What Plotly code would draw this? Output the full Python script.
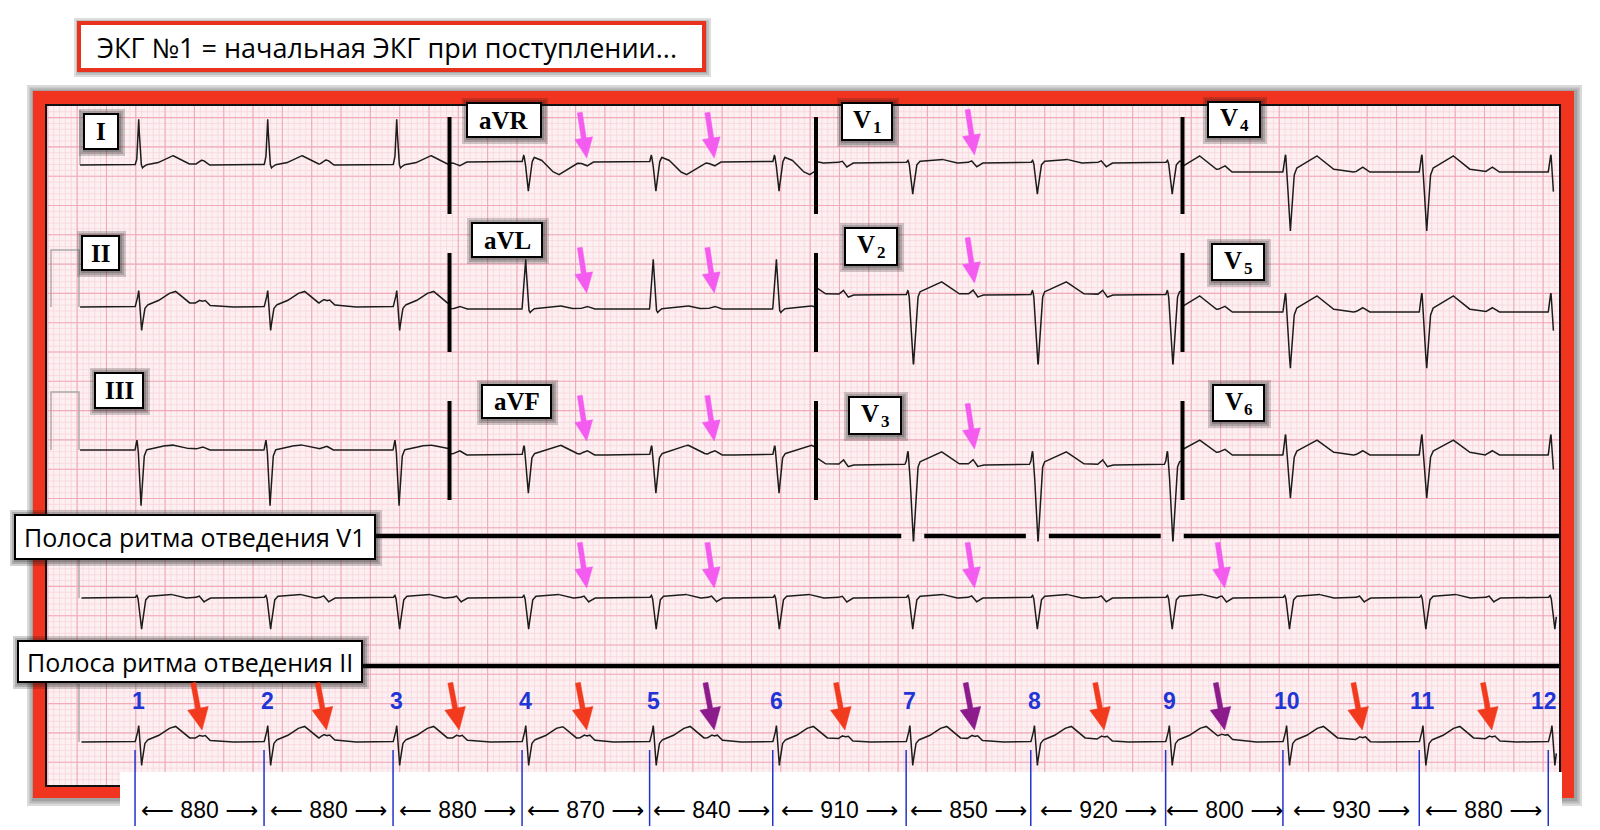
import numpy as np
import plotly.graph_objects as go

# ---------------- data ----------------
beat_labels = [str(i) for i in range(1, 13)]
rr_intervals_ms = [880, 880, 880, 870, 840, 910, 850, 920, 800, 930, 880]
first_qrs_onset_s = 0.355
p_wave_times_s = [0.812, 1.661, 2.566, 3.436, 4.306, 5.197, 6.081, 6.965, 7.787, 8.726, 9.610]
rhythm_ii_arrow_kinds = ["red", "red", "red", "red", "purple", "red", "purple", "red", "purple", "red", "red"]
limb_arrow_p = [3, 4]          # magenta arrows in aVR / aVL / aVF
chest_arrow_p = [6]            # magenta arrows in V1 / V2 / V3
v1_strip_arrow_p = [3, 4, 6, 8]

lead_grid = [["I", "aVR", "V1", "V4"], ["II", "aVL", "V2", "V5"], ["III", "aVF", "V3", "V6"]]
column_start_s = [-0.02, 2.5, 5.0, 7.5]
column_end_s = [2.5, 5.0, 7.5, 10.03]
strip_start_s = -0.01
strip_end_s = 10.05

title_text = "ЭКГ №1 = начальная ЭКГ при поступлении..."
strip_v1_text = "Полоса ритма отведения V1"
strip_ii_text = "Полоса ритма отведения II"

# QRS-T complexes: (seconds after QRS onset, mV)
qrst_I = [(-0.01, 0), (0.0, 0.0), (0.012, 0.1), (0.025, 0.78), (0.038, 0.05), (0.05, -0.05), (0.07, 0.0),
          (0.15, 0.03), (0.21, 0.11), (0.26, 0.16), (0.31, 0.09), (0.36, 0.02), (0.45, 0.0)]
qrst_II = [(-0.01, 0), (0.0, 0.0), (0.015, 0.12), (0.025, 0.28), (0.035, 0.0), (0.045, -0.40), (0.062, -0.05),
           (0.08, 0.03), (0.15, 0.09), (0.22, 0.22), (0.275, 0.27), (0.32, 0.17), (0.37, 0.07), (0.5, 0.03), (0.62, 0.0)]
qrst_III = [(-0.01, 0), (0.0, 0.0), (0.013, 0.17), (0.022, 0.0), (0.04, -1.0), (0.058, -0.15), (0.075, 0.0),
            (0.15, 0.05), (0.25, 0.09), (0.33, 0.04), (0.45, 0.0)]
qrst_aVR = [(-0.01, 0), (0.0, 0.0), (0.012, 0.12), (0.022, 0.0), (0.042, -0.52), (0.062, -0.05), (0.08, 0.08),
            (0.13, 0.04), (0.2, -0.15), (0.25, -0.22), (0.31, -0.12), (0.38, -0.02), (0.45, 0.0)]
qrst_aVL = [(-0.01, 0), (0.0, 0.0), (0.025, 0.85), (0.042, 0.0), (0.055, -0.06), (0.075, 0.0),
            (0.18, 0.03), (0.25, 0.06), (0.33, 0.01), (0.4, 0.0)]
qrst_aVF = [(-0.01, 0), (0.0, 0.0), (0.014, 0.17), (0.022, 0.0), (0.042, -0.68), (0.062, -0.08), (0.08, 0.02),
            (0.16, 0.08), (0.26, 0.17), (0.32, 0.1), (0.38, 0.02), (0.5, 0.0)]
qrst_V1 = [(-0.01, 0), (0.0, 0.0), (0.012, 0.05), (0.02, 0.0), (0.045, -0.53), (0.068, -0.05), (0.09, 0.03),
           (0.18, 0.05), (0.25, 0.06), (0.33, 0.0)]
qrst_V2 = [(-0.01, 0), (0.0, 0.0), (0.012, 0.08), (0.02, 0.0), (0.05, -1.22), (0.075, -0.1), (0.09, 0.05),
           (0.16, 0.13), (0.24, 0.23), (0.3, 0.12), (0.36, 0.02), (0.5, 0.0)]
qrst_V3 = [(-0.012, 0), (0.0, 0.05), (0.012, 0.25), (0.022, 0.0), (0.05, -1.34), (0.075, -0.1), (0.09, 0.05),
           (0.16, 0.13), (0.24, 0.23), (0.3, 0.12), (0.36, 0.02), (0.5, 0.0)]
qrst_V4 = [(-0.01, 0), (0.0, 0.0), (0.018, 0.31), (0.028, 0.0), (0.05, -1.05), (0.072, -0.1), (0.09, 0.06),
           (0.15, 0.15), (0.23, 0.28), (0.29, 0.15), (0.34, 0.05), (0.45, 0.0)]
qrst_V5 = [(-0.01, 0), (0.0, 0.0), (0.018, 0.34), (0.028, 0.0), (0.05, -1.0), (0.072, -0.1), (0.09, 0.06),
           (0.15, 0.15), (0.23, 0.28), (0.29, 0.15), (0.34, 0.05), (0.45, 0.0)]
qrst_V6 = [(-0.01, 0), (0.0, 0.0), (0.018, 0.37), (0.028, 0.0), (0.05, -0.77), (0.072, -0.08), (0.09, 0.06),
           (0.15, 0.14), (0.23, 0.26), (0.29, 0.14), (0.34, 0.05), (0.45, 0.0)]

# P waves: (seconds around P peak, mV)
p_I = [(-0.045, 0), (-0.01, 0.08), (0.01, 0.08), (0.045, 0)]
p_II = [(-0.05, 0), (-0.02, 0.07), (0.0, 0.05), (0.02, 0.08), (0.05, 0)]
p_III = [(-0.045, 0), (0.0, 0.06), (0.045, 0)]
p_aVR = [(-0.045, 0), (0.0, -0.07), (0.045, 0)]
p_aVL = [(-0.045, 0), (0.0, 0.05), (0.045, 0)]
p_aVF = [(-0.045, 0), (0.0, 0.07), (0.045, 0)]
p_V1 = [(-0.05, 0), (-0.02, 0.04), (0.012, -0.07), (0.05, 0)]
p_V2 = [(-0.045, 0), (-0.01, 0.08), (0.02, -0.04), (0.05, 0)]
p_V3 = [(-0.045, 0), (-0.01, 0.09), (0.02, -0.03), (0.05, 0)]
p_V4 = [(-0.045, 0), (0.0, 0.09), (0.045, 0)]
p_V5 = [(-0.045, 0), (0.0, 0.08), (0.045, 0)]
p_V6 = [(-0.045, 0), (0.0, 0.08), (0.045, 0)]

qrst = {"I": qrst_I, "II": qrst_II, "III": qrst_III, "aVR": qrst_aVR, "aVL": qrst_aVL, "aVF": qrst_aVF,
        "V1": qrst_V1, "V2": qrst_V2, "V3": qrst_V3, "V4": qrst_V4, "V5": qrst_V5, "V6": qrst_V6}
pwave = {"I": p_I, "II": p_II, "III": p_III, "aVR": p_aVR, "aVL": p_aVL, "aVF": p_aVF,
         "V1": p_V1, "V2": p_V2, "V3": p_V3, "V4": p_V4, "V5": p_V5, "V6": p_V6}

# ---------------- layout geometry (pixels of the 1600x830 page) ----------------
X0 = 83.0        # pixel of t = 0 s
PXS = 146.6      # pixels per second (25 mm/s)
PXMV = 58.6      # pixels per mV (10 mm/mV)


def tx(px):
    return (px - X0) / PXS


def ty(py):
    return -py / PXMV


lead_base_px = {"I": 165, "aVR": 162, "V1": 163, "V4": 172,
                "II": 307, "aVL": 309, "V2": 295, "V5": 312,
                "III": 450, "aVF": 455, "V3": 465, "V6": 455}
strip_v1_base_px = 598
strip_ii_base_px = 742

beat_onsets = np.concatenate([[first_qrs_onset_s],
                              first_qrs_onset_s + np.cumsum(rr_intervals_ms) / 1000.0])


def signal(t, lead):
    d, v = map(np.array, zip(*qrst[lead]))
    pd_, pv = map(np.array, zip(*pwave[lead]))
    y = np.zeros_like(t)
    for b in beat_onsets:
        y += np.interp(t - b, d, v, left=0.0, right=0.0)
    for p in p_wave_times_s:
        y += np.interp(t - p, pd_, pv, left=0.0, right=0.0)
    return y


fig = go.Figure()

# ---------------- ECG paper grid ----------------
GX0, GX1, GY0, GY1 = 47, 1559, 106, 785
t_lo, t_hi = tx(GX0), tx(GX1)
v_top, v_bot = ty(GY0), ty(GY1)
ref_major_v = ty(645)


def grid_lines(vert_vals, horiz_vals):
    xs, ys = [], []
    for t in vert_vals:
        xs += [t, t, None]
        ys += [v_top, v_bot, None]
    for v in horiz_vals:
        xs += [t_lo, t_hi, None]
        ys += [v, v, None]
    return xs, ys


minor_t = [k * 0.04 for k in range(int(np.ceil(t_lo / 0.04)), int(np.floor(t_hi / 0.04)) + 1)]
major_t = [0.16 + k * 0.2 for k in range(-3, 60) if t_lo <= 0.16 + k * 0.2 <= t_hi]
minor_v = [ref_major_v + k * 0.1 for k in range(-120, 120) if v_bot <= ref_major_v + k * 0.1 <= v_top]
major_v = [ref_major_v + k * 0.5 for k in range(-30, 30) if v_bot <= ref_major_v + k * 0.5 <= v_top]

gx, gy = grid_lines(minor_t, minor_v)
fig.add_trace(go.Scatter(x=gx, y=gy, mode="lines", line=dict(color="#f8d5dc", width=0.8),
                         hoverinfo="skip", showlegend=False))
gx, gy = grid_lines(major_t, major_v)
fig.add_trace(go.Scatter(x=gx, y=gy, mode="lines", line=dict(color="#f0aab8", width=1.1),
                         hoverinfo="skip", showlegend=False))

# calibration marks (faint)
cal_color = "#a8a8a8"
cal_paths = [
    [(80, 110), (80, 165)],
    [(51, 307), (51, 250), (79, 250), (79, 307)],
    [(51, 450), (51, 392), (79, 392), (79, 450)],
    [(79, 540), (79, 598)],
    [(79, 684), (79, 742)],
]
for path in cal_paths:
    fig.add_trace(go.Scatter(x=[tx(p[0]) for p in path], y=[ty(p[1]) for p in path], mode="lines",
                             line=dict(color=cal_color, width=1.4), hoverinfo="skip", showlegend=False))

# ---------------- ECG traces ----------------
ink = "#1c1c1c"
for r, row in enumerate(lead_grid):
    for c, lead in enumerate(row):
        t = np.arange(column_start_s[c], column_end_s[c] + 1e-9, 0.002)
        y = ty(lead_base_px[lead]) + signal(t, lead)
        fig.add_trace(go.Scatter(x=t, y=y, mode="lines", line=dict(color=ink, width=1.5),
                                 hoverinfo="skip", showlegend=False))

for lead, base in (("V1", strip_v1_base_px), ("II", strip_ii_base_px)):
    t = np.arange(strip_start_s, strip_end_s + 1e-9, 0.002)
    y = ty(base) + signal(t, lead)
    fig.add_trace(go.Scatter(x=t, y=y, mode="lines", line=dict(color=ink, width=1.5),
                             hoverinfo="skip", showlegend=False))

# ---------------- shapes ----------------
shapes = []


def rect(x0, y0, x1, y1, fill, line_color="rgba(0,0,0,0)", line_width=0, layer="above"):
    shapes.append(dict(type="rect", xref="x", yref="y", x0=tx(x0), x1=tx(x1), y0=ty(y0), y1=ty(y1),
                       fillcolor=fill, line=dict(color=line_color, width=line_width), layer=layer))


def shadow(x0, y0, x1, y1, spread=6, alpha=0.16, layer="above"):
    for k in (spread, spread * 0.66, spread * 0.33):
        rect(x0 - k + 1, y0 - k + 1, x1 + k + 1, y1 + k + 1, f"rgba(25,25,25,{alpha})", layer=layer)


def hline(px0, px1, py, width, color="black", layer="above"):
    shapes.append(dict(type="line", xref="x", yref="y", x0=tx(px0), x1=tx(px1), y0=ty(py), y1=ty(py),
                       line=dict(color=color, width=width), layer=layer))


# frame
shadow(33, 91, 1574, 798, spread=7, alpha=0.16, layer="below")
rect(33, 91, 1574, 798, "#f0341f", layer="below")
rect(45, 104, 1561, 787, "#111111", layer="below")
rect(GX0, GY0, GX1, GY1, "#fdf0f3", layer="below")

# title box
shadow(79, 23, 704, 70, spread=6, alpha=0.15)
rect(79, 23, 704, 70, "white", "#e8341f", 4)

# column separators in the 12-lead rows
row_bar_px = [(117, 214), (253, 352), (401, 500)]
for (p0, p1) in row_bar_px:
    for tb in column_start_s[1:]:
        shapes.append(dict(type="line", xref="x", yref="y", x0=tb, x1=tb, y0=ty(p0), y1=ty(p1),
                           line=dict(color="black", width=4), layer="above"))

# rhythm strip separators (the first one is broken by the V3 complexes)
gap_half_px = 11.5
v3_beats = [b for b in beat_onsets if column_start_s[2] <= b < column_end_s[2]]
seg_start = 375
for b in v3_beats:
    cpx = X0 + (b + 0.045) * PXS
    hline(seg_start, cpx - gap_half_px, 536, 4.5)
    seg_start = cpx + gap_half_px
hline(seg_start, GX1, 536, 4.5)
hline(362, GX1, 666, 4.5)

# lead label boxes
label_boxes = {
    "I": (84, 114, 118, 149), "aVR": (467, 103, 541, 137), "V1": (842, 103, 892, 140), "V4": (1208, 102, 1260, 137),
    "II": (82, 236, 119, 270), "aVL": (472, 223, 542, 257), "V2": (845, 228, 897, 265), "V5": (1212, 244, 1264, 280),
    "III": (95, 373, 143, 408), "aVF": (482, 385, 551, 418), "V3": (849, 397, 901, 434), "V6": (1213, 385, 1264, 421),
}
for lead, (x0, y0, x1, y1) in label_boxes.items():
    shadow(x0, y0, x1, y1, spread=6, alpha=0.2)
    rect(x0, y0, x1, y1, "white", "black", 2)

# rhythm strip label boxes
for (x0, y0, x1, y1) in [(15, 515, 375, 559), (18, 641, 362, 682)]:
    shadow(x0, y0, x1, y1, spread=6, alpha=0.2)
    rect(x0, y0, x1, y1, "white", "black", 2)

# bottom white panel with RR intervals
rect(120, 772, 1562, 830, "white")

# blue onset lines
for b in beat_onsets:
    shapes.append(dict(type="line", xref="x", yref="y", x0=b, x1=b, y0=ty(750), y1=ty(826),
                       line=dict(color="#2233cc", width=1.5), layer="above"))


# arrows
def arrow(t_tip, tip_py, color, length=46, head_len=20, head_w=18, shaft_w=5, tilt=7):
    tip = np.array([X0 + t_tip * PXS, tip_py])
    u = np.array([tilt, length], dtype=float)
    u /= np.linalg.norm(u)
    n = np.array([-u[1], u[0]])
    tail = tip - u * length
    neck = tip - u * head_len
    pts = [tail + n * shaft_w / 2, neck + n * shaft_w / 2, neck + n * head_w / 2, tip,
           neck - n * head_w / 2, neck - n * shaft_w / 2, tail - n * shaft_w / 2]
    path = "M " + " L ".join(f"{tx(p[0]):.5f},{ty(p[1]):.5f}" for p in pts) + " Z"
    shapes.append(dict(type="path", xref="x", yref="y", path=path, fillcolor=color,
                       line=dict(color=color, width=0.5), layer="above"))


magenta = "#f45cf0"
limb_tip_px = {"aVR": 158, "aVL": 293, "aVF": 441}
chest_tip_px = {"V1": 155, "V2": 283, "V3": 449}
for lead, py in limb_tip_px.items():
    for i in limb_arrow_p:
        arrow(p_wave_times_s[i], py, magenta)
for lead, py in chest_tip_px.items():
    for i in chest_arrow_p:
        arrow(p_wave_times_s[i], py, magenta)
for i in v1_strip_arrow_p:
    arrow(p_wave_times_s[i], 588, magenta)

arrow_colors = {"red": "#f23a1f", "purple": "#8c1c8c"}
for p, kind in zip(p_wave_times_s, rhythm_ii_arrow_kinds):
    arrow(p, 730, arrow_colors[kind], length=48, head_len=22, head_w=21, shaft_w=5, tilt=9)

# ---------------- text ----------------
ann = []


def text(x, y, s, size, color="black", family="Open Sans, sans-serif", xanchor="center", weight="normal"):
    ann.append(dict(x=x, y=y, xref="x", yref="y", text=s, showarrow=False, xanchor=xanchor, yanchor="middle",
                    font=dict(size=size, color=color, family=family, weight=weight)))


text(tx(95), ty(47), title_text, 27, xanchor="left")
text(tx(22), ty(537), strip_v1_text, 25, xanchor="left")
text(tx(25), ty(662), strip_ii_text, 25, xanchor="left")

serif = "Liberation Serif, Times New Roman, serif"
for lead, (x0, y0, x1, y1) in label_boxes.items():
    cx, cy = (x0 + x1) / 2, (y0 + y1) / 2
    if lead.startswith("V"):
        text(tx(cx - 5), ty(cy - 2), "V", 25, family=serif, weight="bold")
        text(tx(cx + 10), ty(cy + 6), lead[1], 17, family=serif, weight="bold")
    else:
        text(tx(cx), ty(cy), lead, 25, family=serif, weight="bold")

for k, (lab, b) in enumerate(zip(beat_labels, beat_onsets)):
    dx = -0.03 if k == len(beat_labels) - 1 else 0.025
    text(b + dx, ty(701), lab, 23, color="#1f35d6", family="Liberation Sans, Arial, sans-serif", weight="bold")

for i, rr in enumerate(rr_intervals_ms):
    mid = (beat_onsets[i] + beat_onsets[i + 1]) / 2
    text(mid, ty(810), f"⟵ {rr} ⟶", 23, family="Liberation Sans, Arial, DejaVu Sans, sans-serif")

fig.update_layout(
    width=1600, height=830, margin=dict(l=0, r=0, t=0, b=0),
    paper_bgcolor="white", plot_bgcolor="rgba(0,0,0,0)",
    xaxis=dict(range=[tx(0), tx(1600)], visible=False, fixedrange=True),
    yaxis=dict(range=[ty(830), ty(0)], visible=False, fixedrange=True),
    shapes=shapes, annotations=ann, showlegend=False,
)
fig.write_html("out.html", config={"displayModeBar": False},
               post_script="document.body.style.margin='0';document.body.style.overflow='hidden';")
